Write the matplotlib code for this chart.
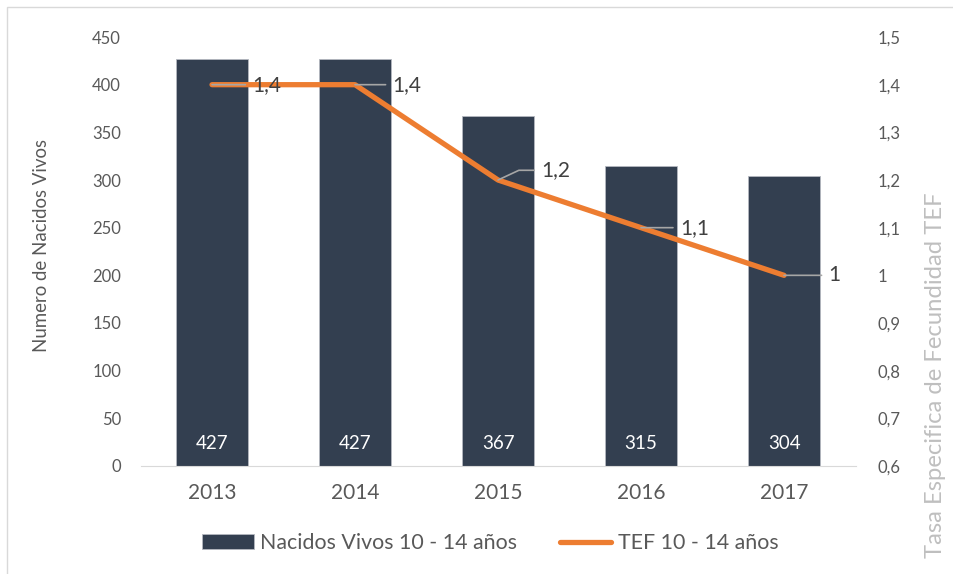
import numpy as np
import matplotlib.pyplot as plt
from matplotlib.patches import Rectangle

years = ['2013', '2014', '2015', '2016', '2017']
nacidos = [427, 427, 367, 315, 304]
tef = [1.4, 1.4, 1.2, 1.1, 1.0]
tef_labels = ['1,4', '1,4', '1,2', '1,1', '1']
right_ticks = [0.6, 0.7, 0.8, 0.9, 1.0, 1.1, 1.2, 1.3, 1.4, 1.5]
right_ticklabels = ['0,6', '0,7', '0,8', '0,9', '1', '1,1', '1,2', '1,3', '1,4', '1,5']

plt.rcParams['font.family'] = ['Lato', 'DejaVu Sans']
gray = '#595959'

fig = plt.figure(figsize=(9.54, 5.74), dpi=100)
ax = fig.add_axes([0.1473, 0.1882, 0.7495, 0.7473])
ax2 = ax.twinx()

x = np.arange(len(years))
bars = ax.bar(x, nacidos, 0.5, color='#333f50', edgecolor='#b4b8c0', linewidth=0.6,
              label='Nacidos Vivos 10 - 14 años')
for xi, v in zip(x, nacidos):
    ax.text(xi, 24, str(v), color='white', ha='center', va='center', fontsize=13.5)

ax.set_xlim(-0.5, len(years) - 0.5)
ax.set_ylim(0, 450)
ax.set_yticks(range(0, 451, 50))
ax.set_xticks(x)
ax.set_xticklabels(years, fontsize=15)
ax.tick_params(axis='x', colors=gray, length=0, pad=12)
ax.tick_params(axis='y', colors=gray, length=0, labelsize=12, pad=14)
ax.set_ylabel('Numero de Nacidos Vivos', color=gray, fontsize=13.4)
ax.yaxis.set_label_coords(-0.127, 0.515)
for s in ['top', 'right', 'left']:
    ax.spines[s].set_visible(False)
ax.spines['bottom'].set_color('#d9d9d9')

line, = ax2.plot(x, tef, color='#ed7d31', linewidth=3.8, solid_capstyle='round',
                 label='TEF 10 - 14 años')
ax2.set_ylim(0.6, 1.5)
ax2.set_yticks(right_ticks)
ax2.set_yticklabels(right_ticklabels)
ax2.tick_params(axis='y', colors=gray, length=0, labelsize=12, pad=16)
ax2.set_ylabel('Tasa Especifica de Fecundidad TEF', color='#bfbfbf', fontsize=17.2)
ax2.yaxis.set_label_coords(1.097, 0.212)
for s in ax2.spines.values():
    s.set_visible(False)

offsets = [(29, 0), (27, 0), (31, 7), (28, 0), (32, 0)]
conns = ['arc3', 'arc3', 'angle,angleA=0,angleB=25,rad=0', 'arc3', 'arc3']
for xi, v, lab, off, cs in zip(x, tef, tef_labels, offsets, conns):
    ax2.annotate(lab, xy=(xi, v), xytext=off, textcoords='offset points',
                 ha='left', va='center', color='#404040', fontsize=15,
                 arrowprops=dict(arrowstyle='-', color='#a6a6a6', lw=1.2,
                                 shrinkA=3, shrinkB=0, connectionstyle=cs))

fig.legend(handles=[bars, line], loc='center', bbox_to_anchor=(0.514, 0.054), ncol=2,
           frameon=False, fontsize=15.4, labelcolor=gray, handlelength=2.4,
           handletextpad=0.3, columnspacing=2.0)

fig.patches.append(Rectangle((7 / 954, -0.05), 1.1, 1 - 7 / 574 + 0.05,
                             transform=fig.transFigure, fill=False,
                             edgecolor='#d9d9d9', linewidth=1))

fig.savefig('out.png', dpi=100)
